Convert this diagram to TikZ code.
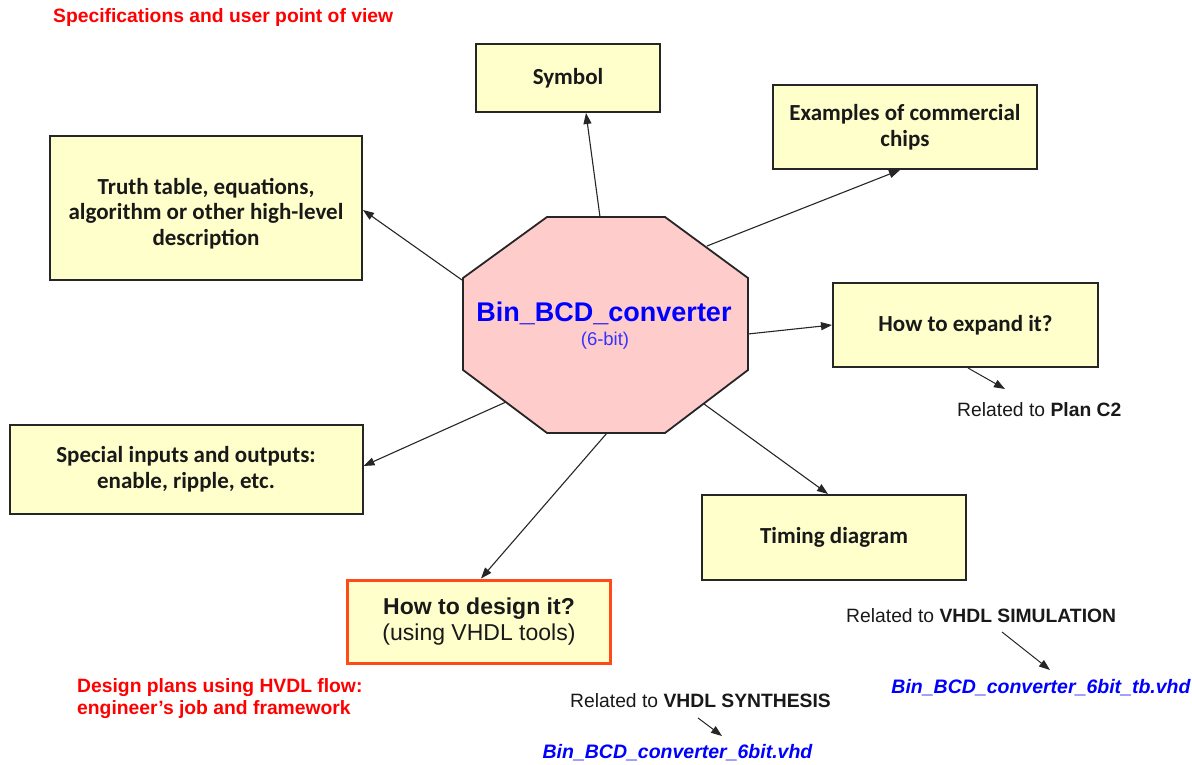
\documentclass[tikz,border=0pt]{standalone}
\usepackage{fontspec}
\setmainfont{Liberation Sans}
\newfontfamily\boxfont{Carlito}
\usetikzlibrary{arrows.meta}
\definecolor{boxfill}{HTML}{FFFFCC}
\definecolor{octfill}{HTML}{FFCCCC}
\definecolor{dgnborder}{HTML}{FF4A1A}
\definecolor{myblue}{HTML}{0000FF}
\definecolor{lblue}{HTML}{3333FF}
\definecolor{myred}{HTML}{FF0000}
\begin{document}
\begin{tikzpicture}[x=1pt,y=-1pt,
  infobox/.style={draw=black!85, line width=2pt, fill=boxfill, align=center, inner sep=0pt,
    font=\boxfont\bfseries\fontsize{23}{25.5}\selectfont, text=black!90},
  conn/.style={line width=1.1pt, draw=black!85, -{Triangle[length=11pt,width=8pt]}},
  lbl/.style={inner sep=0pt, font=\fontsize{19.3}{23}\selectfont, text=black!90},
  redlbl/.style={inner sep=0pt, font=\bfseries\fontsize{19.3}{22}\selectfont, text=myred, align=left},
  filelbl/.style={inner sep=0pt, font=\bfseries\itshape\fontsize{19.5}{23}\selectfont, text=myblue}
]
\useasboundingbox (0,0) rectangle (1192,765);

% central octagon
\draw[line width=1.8pt, draw=black!85, fill=octfill]
  (547,217) -- (665,217) -- (748,278) -- (748,370) -- (665,433) -- (547,433) -- (463,370) -- (463,278) -- cycle;
\node[inner sep=0pt, font=\bfseries\fontsize{27}{30}\selectfont, text=myblue] (core) at (604,313) {Bin\_BCD\_converter};
\node[inner sep=0pt, font=\fontsize{18.5}{20}\selectfont, text=lblue] (corebits) at (605,341) {(6-bit)};

\coordinate (oS) at (600,217);
\coordinate (oE) at (707,246);
\coordinate (oT) at (462,280);
\coordinate (oX) at (748,334);
\coordinate (oSp) at (506,402);
\coordinate (oTi) at (704,404);
\coordinate (oD) at (607,433);

% boxes
\node[infobox, minimum width=184pt, minimum height=68pt] (symbol) at (568,78) {Symbol};
\node[infobox, minimum width=264pt, minimum height=84pt] (examples) at (905,127) {Examples of commercial\\chips};
\node[infobox, minimum width=312pt, minimum height=144pt] (truth) at (206,208) {\rule{0pt}{27pt}Truth table, equations,\\algorithm or other high-level\\description};
\node[infobox, minimum width=265pt, minimum height=84pt] (expand) at (965.5,325) {How to expand it?};
\node[infobox, minimum width=353pt, minimum height=89pt] (special) at (186,469) {Special inputs and outputs:\\enable, ripple, etc.};
\node[infobox, minimum width=264pt, minimum height=85pt] (timing) at (834,537.5) {Timing diagram};
\node[draw=dgnborder, line width=3pt, fill=boxfill, align=center, inner sep=0pt,
      minimum width=263pt, minimum height=83pt, text=black!90,
      font=\fontsize{23}{26}\selectfont] (design) at (479,621.5)
  {\textbf{How to design it?}\\(using VHDL tools)};

% connectors
\draw[conn] (oS) -- ([xshift=18pt]symbol.south);
\draw[conn] (oE) -- ([xshift=-5pt]examples.south);
\draw[conn] (oT) -- ([yshift=-2pt]truth.east);
\draw[conn] (oX) -- (expand.west);
\draw[conn] (oSp) -- ([yshift=3pt]special.east);
\draw[conn] (oTi) -- ([xshift=-6pt]timing.north);
\draw[conn] (oD) -- ([xshift=2pt]design.north);

% labels
\node[redlbl, anchor=west] (title) at (53,18) {Specifications and user point of view};
\node[redlbl, anchor=west] (plans) at (77,699) {Design plans using HVDL flow:\\engineer’s job and framework};

\node[lbl, anchor=west] (planc2) at (957,410) {Related to \textbf{Plan C2}};
\coordinate (pa) at ([xshift=2.5pt]expand.south);
\coordinate (pb) at (1005,389);
\draw[conn, line width=1pt] (pa) -- (pb);

\node[lbl, anchor=west] (simlbl) at (846,616) {Related to \textbf{VHDL SIMULATION}};
\node[filelbl] (tbfile) at (1041,688) {Bin\_BCD\_converter\_6bit\_tb.vhd};
\coordinate (sa) at (1002,632);
\coordinate (sb) at (1050,670);
\draw[conn, line width=1pt] (sa) -- (sb);

\node[lbl, anchor=west] (synlbl) at (570,701) {Related to \textbf{VHDL SYNTHESIS}};
\node[filelbl] (vfile) at (677.5,753) {Bin\_BCD\_converter\_6bit.vhd};
\coordinate (ya) at (698,718);
\coordinate (yb) at (722,736);
\draw[conn, line width=1pt] (ya) -- (yb);
\end{tikzpicture}
\end{document}
